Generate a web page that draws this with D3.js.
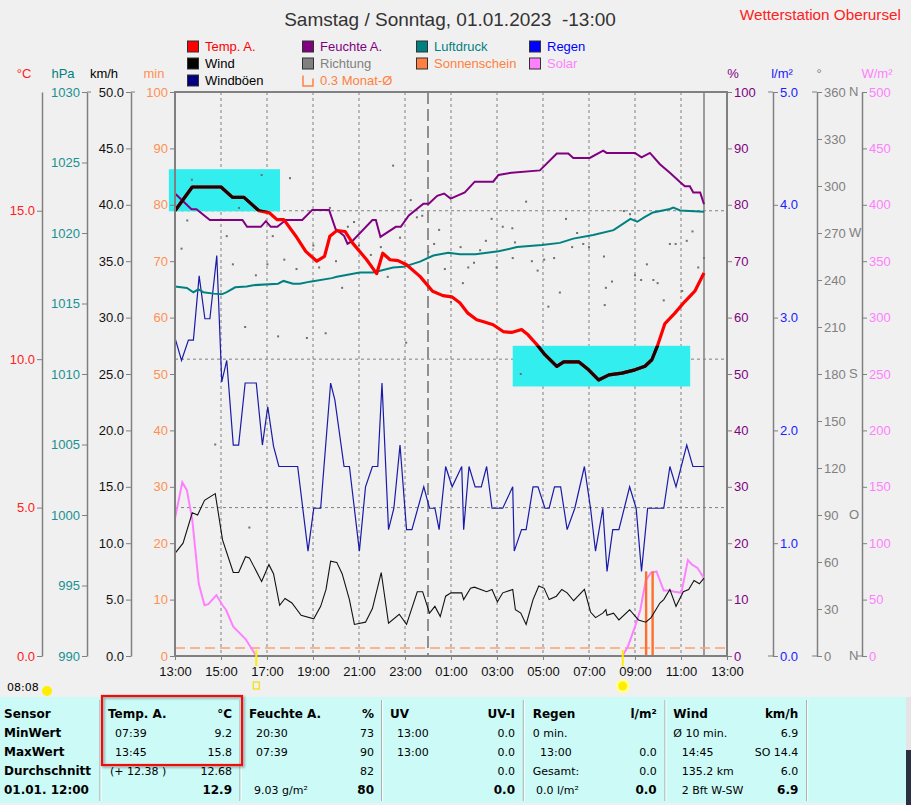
<!DOCTYPE html>
<html><head><meta charset="utf-8">
<script src="https://cdn.jsdelivr.net/npm/d3@7"></script>
<style>body{margin:0;background:#f0f0f0}svg{display:block}</style>
</head><body><svg id="c" width="911" height="805"></svg>
<script>
// ---------------- DATA ----------------
const titleText = "Samstag / Sonntag, 01.01.2023  -13:00";
const stationText = "Wetterstation Oberursel";
const xTickLabels = ["13:00","15:00","17:00","19:00","21:00","23:00","01:00","03:00","05:00","07:00","09:00","11:00","13:00"];

const tempData = [["13:00",15.0],["13:45",15.8],["15:00",15.8],["15:30",15.45],["16:00",15.45],["16:39",15.0],["17:06",14.93],["17:26",14.7],["17:44",14.7],["18:15",14.15],["18:41",13.63],["19:10",13.3],["19:30",13.46],["19:44",14.14],["20:02",14.33],["20:24",14.3],["20:44",13.9],["21:20",13.35],["21:46",12.88],["22:02",13.57],["22:21",13.35],["22:42",13.32],["23:04",13.18],["23:39",12.79],["00:12",12.29],["00:39",12.14],["01:02",12.1],["01:23",11.9],["01:44",11.55],["02:07",11.33],["02:23",11.27],["02:50",11.16],["03:16",10.93],["03:38",10.9],["04:04",11.0],["04:21",10.82],["04:44",10.49],["05:05",10.15],["05:36",9.76],["05:54",9.91],["06:33",9.91],["06:59",9.64],["07:25",9.3],["07:52",9.47],["08:26",9.53],["09:00",9.64],["09:26",9.76],["09:44",9.98],["09:58",10.43],["10:18",11.2],["10:44",11.55],["11:10",11.94],["11:36",12.29],["11:58",12.85],["12:00",12.9]];

const humData = [["13:00",82.0],["13:43",79.2],["13:56",79.2],["14:31",77.3],["15:56",77.3],["16:08",76.1],["16:44",76.1],["16:57",77.1],["17:10",76.1],["17:27",76.1],["17:49",77.3],["18:32",77.3],["18:58",79.1],["19:42",79.1],["19:59",75.7],["20:21",74.5],["20:30",73.1],["20:43",73.6],["21:35",77.3],["21:44",77.3],["21:56",74.3],["22:36",76.1],["22:49",76.1],["23:10",78.1],["23:48",80.2],["00:02",80.2],["00:24",81.6],["00:42",82.0],["00:59",81.1],["01:36",82.2],["02:02",84.1],["02:50",84.1],["03:04",85.3],["03:38",85.7],["04:52",86.1],["05:36",89.1],["06:06",89.1],["06:19",88.3],["07:02",88.3],["07:37",89.6],["07:46",89.2],["09:00",89.2],["09:17",88.4],["09:39",89.2],["10:05",87.2],["10:31",85.7],["10:58",84.0],["11:10",83.3],["11:23",83.3],["11:32",82.2],["11:50",82.2],["12:00",80.1]];

const pressData = [["13:00",1016.2],["13:31",1016.1],["13:48",1015.8],["14:01",1016.0],["14:14",1015.8],["14:40",1015.7],["15:02",1015.65],["15:15",1015.8],["15:37",1016.15],["16:07",1016.2],["16:24",1016.3],["17:29",1016.4],["17:43",1016.6],["18:08",1016.4],["18:26",1016.4],["18:52",1016.55],["19:49",1016.8],["20:02",1016.9],["21:02",1017.2],["21:37",1017.2],["22:29",1017.55],["22:56",1017.6],["23:39",1017.97],["00:14",1018.4],["00:53",1018.6],["01:23",1018.5],["02:04",1018.5],["03:04",1018.7],["03:52",1019.0],["04:57",1019.15],["05:44",1019.3],["06:19",1019.6],["07:11",1019.86],["08:04",1020.2],["08:48",1021.0],["09:06",1020.8],["09:26",1021.15],["09:47",1021.46],["10:31",1021.7],["10:40",1021.8],["10:58",1021.6],["12:00",1021.5]];

const windData = [["13:00",9.1],["13:21",10.0],["13:45",12.7],["13:59",12.5],["14:17",13.8],["14:45",14.4],["15:04",10.3],["15:32",7.4],["15:46",7.4],["16:04",8.8],["16:14",8.7],["16:46",6.6],["17:05",8.1],["17:17",7.3],["17:33",4.5],["17:47",5.1],["18:05",4.7],["18:29",3.6],["19:02",3.3],["19:20",4.4],["19:34",5.9],["19:46",8.4],["20:02",8.3],["20:16",7.3],["20:35",5.0],["20:48",2.8],["21:17",3.0],["21:35",4.2],["21:58",7.4],["22:17",2.9],["22:45",3.7],["23:04",2.8],["23:32",5.7],["23:46",5.7],["00:04",3.8],["00:18",4.4],["00:32",3.5],["00:46",5.3],["01:00",5.6],["01:28",5.6],["01:33",5.0],["01:51",6.0],["02:01",6.1],["02:33",5.7],["02:47",5.9],["03:01",4.8],["03:15",5.6],["03:41",5.9],["03:48",4.1],["04:02",3.8],["04:16",2.8],["04:34",5.0],["04:49",6.2],["05:03",6.0],["05:16",5.0],["05:35",5.3],["05:49",5.9],["06:03",5.6],["06:20",4.9],["06:48",5.9],["07:04",3.9],["07:17",3.4],["07:36",3.8],["07:44",4.1],["07:47",3.6],["08:04",3.8],["08:18",3.2],["08:46",4.1],["09:09",3.2],["09:28",3.0],["09:42",3.4],["10:05",4.7],["10:15",5.0],["10:31",5.9],["10:47",4.4],["11:06",5.7],["11:20",5.9],["11:34",6.7],["11:48",6.4],["12:00",6.9]];

const gustData = [["13:00",28.2],["13:17",26.2],["13:35",28.0],["13:48",28.0],["14:03",33.7],["14:18",29.9],["14:31",29.9],["14:49",35.5],["15:02",24.3],["15:15",26.2],["15:32",18.7],["15:46",18.7],["16:03",24.2],["16:32",24.2],["16:48",18.7],["17:02",22.1],["17:17",18.6],["17:31",16.8],["18:20",16.8],["18:47",9.3],["19:02",13.1],["19:20",13.1],["19:46",24.2],["19:57",22.7],["20:21",16.8],["20:35",16.8],["21:01",9.3],["21:17",15.0],["21:35",16.8],["21:49",16.8],["22:00",24.2],["22:17",11.2],["22:31",13.1],["22:47",18.7],["23:04",11.2],["23:18",11.2],["23:49",15.0],["00:04",13.1],["00:18",13.1],["00:29",11.2],["00:46",16.8],["01:03",15.0],["01:28",16.8],["01:33",11.2],["01:47",16.8],["02:03",15.0],["02:19",15.0],["02:33",16.8],["02:47",13.1],["03:15",13.1],["03:41",15.0],["03:45",9.3],["04:04",11.2],["04:16",11.2],["04:34",15.0],["04:47",15.0],["05:05",13.1],["05:16",13.1],["05:30",15.0],["05:46",15.0],["06:03",11.2],["06:23",13.1],["06:48",16.8],["07:04",13.1],["07:17",9.3],["07:36",13.1],["07:47",7.5],["08:02",11.2],["08:18",11.2],["08:46",15.0],["09:03",13.1],["09:17",7.5],["09:33",13.1],["10:15",13.1],["10:31",16.8],["10:47",15.0],["11:15",18.7],["11:31",16.8],["12:00",16.8]];

const dirData = [["13:17",260],["13:32",278],["13:44",304],["14:45",135],["15:15",268],["15:31",250],["15:47",286],["16:03",210],["16:14",82],["16:31",243],["16:46",307],["17:01",250],["17:15",268],["17:29",204],["17:45",253],["18:00",305],["18:17",247],["18:44",203],["19:01",262],["19:16",248],["19:33",206],["19:44",286],["20:00",252],["20:16",235],["20:31",274],["20:47",277],["21:00",262],["21:31",256],["21:57",261],["22:15",242],["22:29",313],["22:47",267],["23:03",200],["23:15",291],["23:31",280],["23:45",281],["00:01",258],["00:16",263],["00:29",272],["00:44",247],["01:00",226],["01:25",261],["01:31",238],["01:45",248],["02:00",251],["02:16",259],["02:31",265],["02:46",279],["02:59",248],["03:15",274],["03:40",273],["03:41",254],["03:47",264],["04:02",180],["04:16",290],["04:31",252],["04:46",246],["05:03",253],["05:14",223],["05:29",254],["05:44",232],["06:00",279],["06:16",261],["06:29",270],["06:45",263],["07:00",261],["07:39",255],["07:41",224],["07:44",235],["08:00",239],["08:31",284],["08:47",282],["09:00",243],["09:16",240],["09:31",250],["09:48",240],["09:59",238],["10:15",227],["10:31",263],["10:46",263],["11:03",233],["11:15",265],["11:30",271],["11:45",248],["12:00",254]];

const solarData = [["13:00",122],["13:19",154],["13:31",147],["13:45",121],["14:02",64],["14:17",45],["14:27",46],["14:48",54],["15:04",45],["15:13",41],["15:32",26],["16:04",15],["16:32",0],["08:27",0],["08:41",8],["09:00",26],["09:14",41],["09:28",67],["09:42",74],["09:56",75],["10:15",58],["10:29",58],["10:43",57],["11:01",56],["11:18",85],["11:29",81],["11:43",78],["12:00",69]];

const sunshineData = [["09:29",15],["09:46",15]];
const sunMonthAvg = 1.4;
const sunEvents = ["16:32","08:28"];
const dayLength = "08:08";
const nowTime = "12:00";
const midnight = "00:00";
const tempGrid = [5,10,15];
// highlighted min/max temperature windows: [start minute offset, end minute offset, low °C, high °C]
const highlightBoxes = [[-16,274,14.98,16.4],[881,1344,9.08,10.45]];

const tempTicks=[0,5,10,15], pressTicks=d3.range(990,1031,5), kmhTicks=d3.range(0,50.1,5),
      minTicks=d3.range(0,101,10), humTicks=d3.range(0,101,10), rainTicks=[0,1,2,3,4,5],
      dirTicks=d3.range(0,361,30), solTicks=d3.range(0,501,50);
const compass = [[0,"N"],[90,"O"],[180,"S"],[270,"W"],[360,"N"]];

const legendLabels = ["Temp. A.","Wind","Windböen","Feuchte A.","Richtung","0.3 Monat-Ø","Luftdruck","Sonnenschein","Regen","Solar"];

const tableCols = [
  {head:["Sensor",""], rows:[["MinWert",""],["MaxWert",""],["Durchschnitt",""],["01.01. 12:00",""]]},
  {head:["Temp. A.","°C"], rows:[["07:39","9.2"],["13:45","15.8"],["(+ 12.38 )","12.68"],["","12.9"]]},
  {head:["Feuchte A.","%"], rows:[["20:30","73"],["07:39","90"],["","82"],["9.03 g/m²","80"]]},
  {head:["UV","UV-I"], rows:[["13:00","0.0"],["13:00","0.0"],["","0.0"],["","0.0"]]},
  {head:["Regen","l/m²"], rows:[["0 min.",""],["13:00","0.0"],["Gesamt:","0.0"],["0.0 l/m²","0.0"]]},
  {head:["Wind","km/h"], rows:[["Ø 10 min.","6.9"],["14:45","SO 14.4"],["135.2 km","6.0"],["2 Bft W-SW","6.9"]]}
];

// ---------------- DRAW ----------------
const svg = d3.select('#c');
const FONT = '"Liberation Sans", Arial, sans-serif';
const TFONT = '"DejaVu Sans", Verdana, sans-serif';
const tm = s => { const [h,m]=s.split(':').map(Number); let v=h*60+m-780; return v<0?v+1440:v; };
const TOP=92, BOT=656, L=175, R=727;
const x = d3.scaleLinear().domain([0,1440]).range([L,R]);
const yT = d3.scaleLinear().domain([0,19]).range([BOT,TOP]);
const yP = d3.scaleLinear().domain([990,1030]).range([BOT,TOP]);
const yK = d3.scaleLinear().domain([0,50]).range([BOT,TOP]);
const yM = d3.scaleLinear().domain([0,100]).range([BOT,TOP]);
const yH = d3.scaleLinear().domain([0,100]).range([BOT,TOP]);
const yR = d3.scaleLinear().domain([0,5]).range([BOT,TOP]);
const yD = d3.scaleLinear().domain([0,360]).range([BOT,TOP]);
const yS = d3.scaleLinear().domain([0,500]).range([BOT,TOP]);

svg.append('rect').attr('width',911).attr('height',805).attr('fill','#f0f0f0');

// Title
svg.append('text').attr('x',450).attr('y',26).attr('text-anchor','middle').style('white-space','pre')
  .style('font','19px '+FONT).attr('fill','#333').text(titleText);
svg.append('text').attr('x',901).attr('y',20).attr('text-anchor','end')
  .style('font','15.3px '+FONT).attr('fill','#ff2020').text(stationText);

// Legend
const legFill = ["#ff0000","#000000","#000080","#800080","#808080",null,"#008080","#ff8040","#0000ff","#ff80ff"];
const legText = ["#ff0000","#000000","#000000","#800080","#808080","#ff8040","#008080","#ff8040","#0000ff","#ff80ff"];
const legCol = [0,0,0,1,1,1,2,2,3,3], legRow=[0,1,2,0,1,2,0,1,0,1];
const colX=[187,302,416,529];
legendLabels.forEach((lab,i)=>{
  const cx=colX[legCol[i]], cy=46.5+legRow[i]*17;
  if(legFill[i]) svg.append('rect').attr('x',cx+0.5).attr('y',cy-5.5).attr('width',11).attr('height',11)
     .attr('fill',legFill[i]).attr('stroke','#303030');
  else svg.append('path').attr('d',`M${cx+1},${cy-5}V${cy+5.5}H${cx+11}V${cy-2}`).attr('fill','none').attr('stroke','#ff8040').attr('stroke-width',1.5);
  svg.append('text').attr('x',cx+18).attr('y',cy+4.5).style('font','13px '+FONT).attr('fill',legText[i]).text(lab);
});

// Unit labels
[["°C",24,"#ff2020"],["hPa",63,"#008080"],["km/h",104,"#000"],["min",154,"#ff9050"],
 ["%",733,"#800080"],["l/m²",782,"#2020ff"],["°",819,"#808080"],["W/m²",877,"#ff80ff"]]
 .forEach(([t,xx,c])=>svg.append('text').attr('x',xx).attr('y',78).attr('text-anchor','middle')
   .style('font','13px '+FONT).attr('fill',c).text(t));

// Highlight boxes
const boxG = svg.append('g');
highlightBoxes.forEach(b=>{
  boxG.append('rect').attr('x',x(b[0])).attr('y',yT(b[3])).attr('width',x(b[1])-x(b[0])).attr('height',yT(b[2])-yT(b[3])).attr('fill','#33eeee');
});
const clip = svg.append('clipPath').attr('id','hb');
highlightBoxes.forEach(b=>{
  clip.append('rect').attr('x',x(b[0])).attr('y',yT(b[3])).attr('width',x(b[1])-x(b[0])).attr('height',yT(b[2])-yT(b[3]));
});

// Grid
const gridG = svg.append('g').attr('stroke','#808080').attr('stroke-width',1);
d3.range(120,1440,120).forEach(m=>{
  gridG.append('line').attr('x1',x(m)).attr('x2',x(m)).attr('y1',TOP).attr('y2',BOT).attr('stroke-dasharray','3,3');
});
tempGrid.forEach(t=>{
  gridG.append('line').attr('x1',L).attr('x2',R).attr('y1',yT(t)).attr('y2',yT(t)).attr('stroke-dasharray','3,3');
});
boxG.raise();
gridG.append('line').attr('x1',x(tm(midnight))).attr('x2',x(tm(midnight))).attr('y1',TOP).attr('y2',BOT)
  .attr('stroke','#909090').attr('stroke-width',2).attr('stroke-dasharray','12,5');
gridG.append('line').attr('x1',x(tm(nowTime))).attr('x2',x(tm(nowTime))).attr('y1',TOP).attr('y2',BOT)
  .attr('stroke','#808080').attr('stroke-width',1.5);

// monthly average sunshine
svg.append('line').attr('x1',L).attr('x2',R).attr('y1',yM(sunMonthAvg)).attr('y2',yM(sunMonthAvg))
  .attr('stroke','#ffa070').attr('stroke-width',1.5).attr('stroke-dasharray','10,5');

const line = (ys)=>d3.line().x(d=>x(tm(d[0]))).y(d=>ys(d[1]));

svg.append('path').datum(solarData).attr('d',line(yS)).attr('fill','none').attr('stroke','#ff80ff').attr('stroke-width',2);
svg.selectAll('.sun').data(sunshineData).enter().append('rect')
  .attr('x',d=>x(tm(d[0]))-1.2).attr('width',2.4).attr('y',d=>yM(d[1])).attr('height',d=>BOT-yM(d[1])).attr('fill','#ff7030');
svg.append('path').datum(gustData).attr('d',line(yK)).attr('fill','none').attr('stroke','#1a1aa8').attr('stroke-width',1.2);
svg.append('path').datum(windData).attr('d',line(yK)).attr('fill','none').attr('stroke','#111').attr('stroke-width',1.1);
svg.selectAll('.dir').data(dirData).enter().append('rect')
  .attr('x',d=>x(tm(d[0]))-1).attr('y',d=>yD(d[1])-1).attr('width',2).attr('height',2).attr('fill','#707070');
svg.append('path').datum(pressData).attr('d',line(yP)).attr('fill','none').attr('stroke','#008080').attr('stroke-width',2);
svg.append('path').datum(humData).attr('d',line(yH)).attr('fill','none').attr('stroke','#800080').attr('stroke-width',2);
svg.append('path').datum(tempData).attr('d',line(yT)).attr('fill','none').attr('stroke','#ff0000').attr('stroke-width',3.2).attr('stroke-linejoin','round');
svg.append('path').datum(tempData).attr('d',line(yT)).attr('fill','none').attr('stroke','#200404').attr('stroke-width',3.2).attr('stroke-linejoin','round').attr('clip-path','url(#hb)');

// frame
svg.append('rect').attr('x',L).attr('y',TOP).attr('width',R-L).attr('height',BOT-TOP).attr('fill','none').attr('stroke','#808080').attr('stroke-width',2);

// axes
function vAxis(xpos, scale, ticks, fmt, color, side, domain){
  const ax=(side==='left'?d3.axisLeft(scale):d3.axisRight(scale)).tickValues(ticks).tickFormat(fmt).tickSize(5).tickPadding(2).tickSizeOuter(0);
  const g=svg.append('g').attr('transform',`translate(${xpos},0)`).call(ax)
    .attr('font-family','Liberation Sans, Arial, sans-serif').attr('font-size',13);
  g.select('.domain').attr('stroke',domain?'#808080':'none').attr('stroke-width',1.5);
  g.selectAll('.tick line').attr('stroke','#808080');
  g.selectAll('.tick text').attr('fill',color);
  return g;
}
vAxis(42,yT,tempTicks,d3.format('.1f'),'#ff2020','left',true);
vAxis(87,yP,pressTicks,d3.format('d'),'#1a9090','left',true);
vAxis(131,yK,kmhTicks,d3.format('.1f'),'#111','left',true);
vAxis(L,yM,minTicks,d3.format('d'),'#ff9050','left',false);
vAxis(R,yH,humTicks,d3.format('d'),'#800080','right',false);
vAxis(773,yR,rainTicks,d3.format('.1f'),'#2020ff','right',true);
vAxis(817,yD,dirTicks,d3.format('d'),'#808080','right',true);
vAxis(862,yS,solTicks,d3.format('d'),'#ff80ff','right',true);
compass.forEach(([v,c])=>svg.append('text').attr('x',849).attr('y',yD(v)).attr('dy','0.32em')
  .style('font','13px '+FONT).attr('fill','#808080').text(c));
[87,131].forEach(xx=>svg.append('line').attr('x1',xx).attr('x2',xx+4).attr('y1',TOP).attr('y2',TOP).attr('stroke','#808080'));
[773,817].forEach(xx=>svg.append('line').attr('x1',xx-5).attr('x2',xx).attr('y1',TOP).attr('y2',TOP).attr('stroke','#808080'));
[773,817,862].forEach(xx=>svg.append('line').attr('x1',xx-5).attr('x2',xx).attr('y1',BOT).attr('y2',BOT).attr('stroke','#808080'));

// x axis
const xa=d3.axisBottom(x).tickValues(d3.range(0,1441,120)).tickFormat((d,i)=>xTickLabels[i]).tickSize(4).tickPadding(7).tickSizeOuter(0);
const gx=svg.append('g').attr('transform',`translate(0,${BOT})`).call(xa).attr('font-family','Liberation Sans, Arial, sans-serif').attr('font-size',13);
gx.select('.domain').remove();
gx.selectAll('.tick line').attr('stroke','#808080');
gx.selectAll('.tick text').attr('fill','#111');

// sun events
sunEvents.forEach((s,i)=>{
  const xx=x(tm(s));
  svg.append('line').attr('x1',xx).attr('x2',xx).attr('y1',650).attr('y2',666).attr('stroke','#ffee00').attr('stroke-width',2);
  if(i===0) svg.append('rect').attr('x',xx-3).attr('y',682).attr('width',6).attr('height',7).attr('fill','none').attr('stroke','#f0e000').attr('stroke-width',1.2);
  else { svg.append('circle').attr('cx',xx).attr('cy',686).attr('r',7).attr('fill','#ffff90');
         svg.append('circle').attr('cx',xx).attr('cy',686).attr('r',4.5).attr('fill','#ffee00'); }
});
svg.append('text').attr('x',7).attr('y',691).style('font','11px '+TFONT).attr('fill','#000').text(dayLength);
svg.append('circle').attr('cx',47).attr('cy',691).attr('r',5).attr('fill','#ffee00');

// table
svg.append('rect').attr('x',0).attr('y',697).attr('width',906).attr('height',106).attr('fill','#ccfaf7');
svg.append('rect').attr('x',906).attr('y',697).attr('width',5).attr('height',53).attr('fill','#e4e4e4');
svg.append('rect').attr('x',906).attr('y',750).attr('width',5).attr('height',55).attr('fill','#2a3040');
const sepX=[100,240,381.7,523.3,665,806.7];
sepX.forEach(sx=>{
  svg.append('line').attr('x1',sx).attr('x2',sx).attr('y1',700).attr('y2',801).attr('stroke','#a0a0a0');
  svg.append('line').attr('x1',sx+1).attr('x2',sx+1).attr('y1',700).attr('y2',801).attr('stroke','#ffffff');
});
const rowY=[718,737,756,775,794];
const colLeft=[[4,4],[108,115],[249,256],[390,397],[532.7,540],[673.3,681.7]];
const colRight=[0,232,374,515,656.7,798.3];
const leftOverride={ "(+ 12.38 )":110, "9.03 g/m²":254, "0 min.":532.7, "Gesamt:":532.7, "0.0 l/m²":536, "Ø 10 min.":673.3 };
tableCols.forEach((c,ci)=>{
  const all=[c.head].concat(c.rows);
  all.forEach((r,ri)=>{
    const bold = ri===0 || ci===0;
    const lx = (ri===0||ci===0)?colLeft[ci][0]:(leftOverride[r[0]]!==undefined?leftOverride[r[0]]:colLeft[ci][1]);
    if(r[0]) svg.append('text').attr('x',lx).attr('y',rowY[ri])
      .style('font',(bold?'bold 12px ':'11px ')+TFONT).attr('fill','#000').text(r[0]);
    if(r[1]) svg.append('text').attr('x',colRight[ci]).attr('y',rowY[ri]).attr('text-anchor','end')
      .style('font',((ri===0||ri===4)?'bold 12px ':'11px ')+TFONT).attr('fill','#000').text(r[1]);
  });
});
const defs=svg.append('defs');
defs.append('filter').attr('id','sh').append('feDropShadow').attr('dx',1.5).attr('dy',1.5).attr('stdDeviation',1.2).attr('flood-color','#000').attr('flood-opacity',0.35);
svg.append('rect').attr('x',102).attr('y',696).attr('width',140).attr('height',69).attr('fill','none')
  .attr('stroke','#ee1111').attr('stroke-width',2.2).attr('filter','url(#sh)');
</script></body></html>
